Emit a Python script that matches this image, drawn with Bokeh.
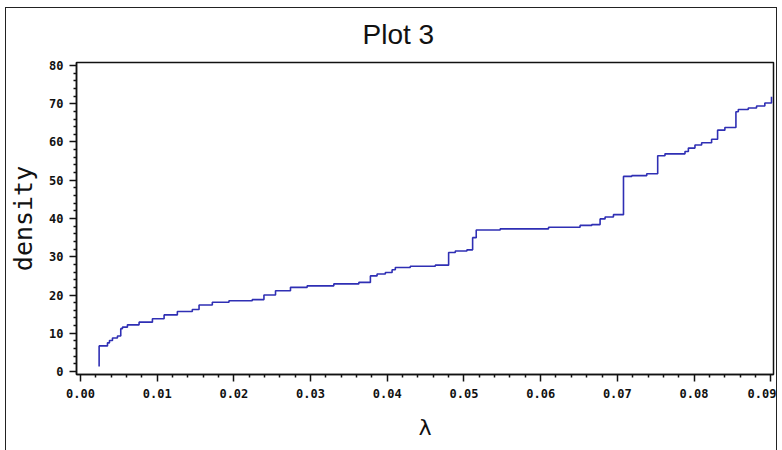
from bokeh.plotting import figure
from bokeh.models import FixedTicker, Range1d, Title
from bokeh.embed import file_html
from bokeh.resources import INLINE

# step curve of density against lambda
lam = [0.00243, 0.00243, 0.00352, 0.00378, 0.00417, 0.00482, 0.00525, 0.00547,
       0.00612, 0.00764, 0.00938, 0.0109, 0.01263, 0.01458, 0.01546, 0.01719,
       0.01936, 0.0224, 0.02392, 0.02543, 0.02738, 0.02956, 0.03303, 0.03629,
       0.0378, 0.03867, 0.03975, 0.04063, 0.04105, 0.043, 0.04626, 0.048,
       0.04887, 0.05039, 0.05113, 0.0516, 0.05473, 0.06103, 0.06514, 0.06667,
       0.06775, 0.0684, 0.06949, 0.0708, 0.07188, 0.07383, 0.07526, 0.07621,
       0.07882, 0.07926, 0.08012, 0.08099, 0.08229, 0.08307, 0.08402, 0.08546,
       0.08577, 0.08707, 0.08815, 0.08923, 0.0901]
density = [1.3, 6.7, 7.5, 8.1, 8.75, 9.3, 11.2, 11.6, 12.2, 12.9, 13.8, 14.8,
           15.7, 16.2, 17.4, 18.1, 18.5, 18.8, 20.0, 21.1, 22.0, 22.4, 22.9,
           23.3, 25.0, 25.5, 25.9, 26.6, 27.2, 27.5, 27.8, 31.1, 31.5, 31.8,
           35.0, 37.0, 37.3, 37.7, 38.2, 38.4, 39.9, 40.4, 41.0, 51.0, 51.2,
           51.7, 56.4, 56.9, 57.5, 58.4, 59.2, 59.8, 60.7, 63.1, 63.8, 67.9,
           68.5, 68.9, 69.4, 70.2, 71.8]

x_ticks = [0.0, 0.01, 0.02, 0.03, 0.04, 0.05, 0.06, 0.07, 0.08, 0.09]
x_tick_labels = ["0.00", "0.01", "0.02", "0.03", "0.04", "0.05", "0.06",
                 "0.07", "0.08", "0.09"]
y_ticks = [0, 10, 20, 30, 40, 50, 60, 70, 80]
y_tick_labels = ["0", "10", "20", "30", "40", "50", "60", "70", "80"]

title_text = "Plot 3"
x_label = "λ"
y_label = "density"

p = figure(width=772, height=443, output_backend="svg", toolbar_location=None,
           x_range=Range1d(-0.00052, 0.09036), y_range=Range1d(-0.78, 80.78),
           min_border_left=68, min_border_right=5, min_border_top=54,
           min_border_bottom=77)
p.styles = {"border-left": "1px solid #222", "border-top": "1px solid #222",
            "border-right": "1px solid #222",
            "margin-left": "5px", "margin-top": "7px"}

p.step(lam, density, mode="after", line_color="#2f2fb4", line_width=1.6)

p.add_layout(Title(text=title_text, align="left", offset=286,
                   vertical_align="top",
                   text_font="Liberation Sans", text_font_size="28px",
                   text_font_style="normal", text_color="#111",
                   standoff=21), "above")

p.grid.visible = False
p.outline_line_color = "#111"
p.outline_line_width = 1.5
p.background_fill_color = "white"
p.border_fill_color = "white"

minor_x = [round(i * 0.002, 4) for i in range(46) if i % 5 != 0]
p.xaxis.ticker = FixedTicker(ticks=x_ticks, minor_ticks=minor_x)
p.xaxis.major_label_overrides = {t: s for t, s in zip(x_ticks, x_tick_labels)}
minor_y = [i * 2 for i in range(41) if i % 5 != 0]
p.yaxis.ticker = FixedTicker(ticks=y_ticks, minor_ticks=minor_y)
p.yaxis.major_label_overrides = {t: s for t, s in zip(y_ticks, y_tick_labels)}

for ax in (p.xaxis[0], p.yaxis[0]):
    ax.axis_line_color = "#111"
    ax.axis_line_width = 1.5
    ax.major_tick_line_color = "#111"
    ax.major_tick_line_width = 1.5
    ax.minor_tick_line_color = "#111"
    ax.minor_tick_line_width = 1.5
    ax.major_tick_in = 0
    ax.major_tick_out = 7
    ax.minor_tick_in = 0
    ax.minor_tick_out = 3
    ax.major_label_text_font = "DejaVu Sans Mono"
    ax.major_label_text_font_style = "bold"
    ax.major_label_text_font_size = "12px"
    ax.major_label_text_color = "#111"
    ax.axis_label_text_font = "DejaVu Sans Mono"
    ax.axis_label_text_font_style = "normal"
    ax.axis_label_text_color = "#111"

p.xaxis.axis_label = x_label
p.xaxis.axis_label_text_font_size = "22px"
p.xaxis.major_label_standoff = 7
p.xaxis.axis_label_standoff = 14
p.yaxis.axis_label = y_label
p.yaxis.axis_label_text_font_size = "25px"
p.yaxis.major_label_standoff = 6
p.yaxis.axis_label_standoff = 8

open("out.html", "w").write(file_html(p, INLINE))
